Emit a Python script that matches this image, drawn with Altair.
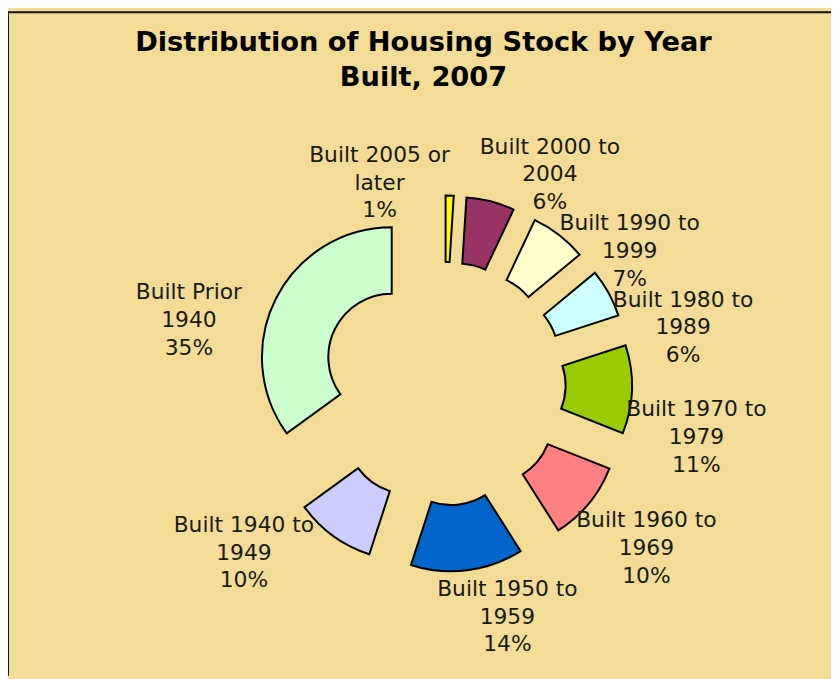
import altair as alt
import pandas as pd

# ---- data -------------------------------------------------------------
categories = [
    "Built 2005 or\nlater",
    "Built 2000 to\n2004",
    "Built 1990 to\n1999",
    "Built 1980 to\n1989",
    "Built 1970 to\n1979",
    "Built 1960 to\n1969",
    "Built 1950 to\n1959",
    "Built 1940 to\n1949",
    "Built Prior\n1940",
]
shares = [1, 6, 7, 6, 11, 10, 14, 10, 35]
colors = ["#FFFF00", "#993366", "#FFFFCC", "#CCFFFF", "#99CC00",
          "#FF8080", "#0066CC", "#CCCCFF", "#CCFFCC"]

# label placement (polar, around the doughnut centre): angle in degrees, radius in px
label_angle = [-17.8, 27.0, 54.7, 77.0, 102.2, 129.2, 164.8, 229.6, 283.8]
label_radius = [212, 236, 230, 248, 261, 264, 245, 265, 265]

# ---- layout constants -------------------------------------------------
W, H = 831, 671
CX, CY = 440, 376        # doughnut centre in view coordinates
LCX, LCY = 440, 375      # centre used for label placement
EXPLODE = 59             # explosion distance
R_OUT, R_IN = 131, 64
BG = "#F3DC96"
LINE_H = 28

df = pd.DataFrame({
    "category": categories,
    "share": shares,
    "order": list(range(len(shares))),
    "lang": label_angle,
    "lrad": label_radius,
})
df["label"] = [c + "\n" + f"{s}%" for c, s in zip(categories, shares)]

base = (
    alt.Chart(df)
    .transform_window(cum="sum(share)", sort=[alt.SortField("order")])
    .transform_calculate(t0="(datum.cum - datum.share) / 100 * 2 * PI")
    .transform_calculate(t1="datum.cum / 100 * 2 * PI")
    .transform_calculate(tm="(datum.cum - datum.share / 2) / 100 * 2 * PI")
    .transform_calculate(ax=f"{CX} + {EXPLODE} * sin(datum.tm)")
    .transform_calculate(ay=f"{CY} - {EXPLODE} * cos(datum.tm)")
    .transform_calculate(lx=f"{LCX} + datum.lrad * sin(datum.lang * PI / 180)")
    .transform_calculate(ly=f"{LCY} - datum.lrad * cos(datum.lang * PI / 180)")
)

arcs = base.mark_arc(radius=R_OUT, radius2=R_IN, stroke="black", strokeWidth=2).encode(
    x=alt.X("ax:Q", scale=None, axis=None),
    y=alt.Y("ay:Q", scale=None, axis=None),
    theta=alt.Theta("t0:Q", scale=None),
    theta2=alt.Theta2("t1:Q"),
    color=alt.Color("category:N", scale=alt.Scale(domain=categories, range=colors), legend=None),
)

labels = base.mark_text(
    font="DejaVu Sans", fontSize=22, lineBreak="\n", lineHeight=LINE_H,
    align="center", baseline="middle", color="#1a1a1a", dy=-LINE_H,
).encode(
    x=alt.X("lx:Q", scale=None, axis=None),
    y=alt.Y("ly:Q", scale=None, axis=None),
    text="label:N",
)

one = pd.DataFrame({"k": [0]})
left_border = alt.Chart(one).mark_rule(color="#111", strokeWidth=2).encode(
    x=alt.value(0), y=alt.value(0), y2=alt.value(H)
)
top_border = alt.Chart(one).mark_rule(color="#111", strokeWidth=2).encode(
    x=alt.value(0), x2=alt.value(W), y=alt.value(1)
)

chart = (
    alt.layer(arcs, labels, left_border, top_border)
    .properties(
        width=W, height=H, padding=0, background=BG,
        autosize=alt.AutoSizeParams(type="none"),
        title=alt.Title(
            ["Distribution of Housing Stock by Year", "Built, 2007"],
            font="DejaVu Sans", fontSize=27.5, fontWeight="bold", color="black",
            anchor="middle", offset=-82, lineHeight=35.5, dx=4,
        ),
    )
    .configure_view(stroke=None)
)

chart.save("out.html", embed_options={"renderer": "svg", "actions": False})
